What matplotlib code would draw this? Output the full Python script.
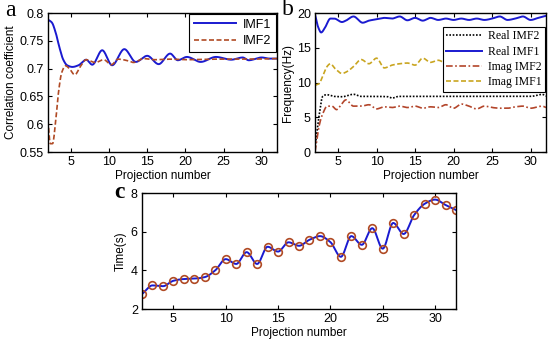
import numpy as np
import matplotlib
matplotlib.use("Agg")
import matplotlib.pyplot as plt

# ---------------- data ----------------
# panel a: correlation coefficient
a_imf1_x = [2, 2.5, 3, 3.5, 4, 4.5, 5.2, 6, 7, 7.8, 9.1, 10.4, 12, 13.5, 15, 16.5, 18, 19,
            20.2, 22, 24, 26, 27.5, 28.3, 30, 31, 32]
a_imf1_y = [0.788, 0.783, 0.765, 0.738, 0.716, 0.706, 0.703, 0.706, 0.716, 0.707, 0.733, 0.706,
            0.735, 0.712, 0.723, 0.708, 0.727, 0.715, 0.721, 0.712, 0.721, 0.716, 0.720, 0.715,
            0.720, 0.718, 0.718]
a_imf2_x = [2, 2.3, 2.6, 3, 3.4, 3.8, 4.3, 4.8, 5.5, 6.3, 7, 8.2, 9.3, 10.3, 11.2, 12.5, 13.2,
            14.5, 16, 18, 20, 24, 28, 32]
a_imf2_y = [0.607, 0.565, 0.565, 0.605, 0.660, 0.693, 0.705, 0.700, 0.689, 0.705, 0.716, 0.711,
            0.716, 0.707, 0.717, 0.714, 0.711, 0.718, 0.716, 0.717, 0.716, 0.717, 0.717, 0.718]

# panel b: frequency
b_real1_x = [2, 2.4, 2.8, 3.3, 4, 4.5, 5.5, 6, 7, 8.2, 9, 10, 11, 12, 13, 14, 15, 16, 17, 18,
             19, 20, 21, 22, 23, 24, 25, 26, 27, 28, 29, 30, 31, 32]
b_real1_y = [19.8, 18.0, 17.2, 17.9, 19.2, 19.2, 18.7, 18.9, 19.5, 18.6, 18.9, 19.1, 19.3, 19.2,
             19.5, 18.95, 19.3, 18.9, 19.3, 19.0, 19.2, 19.0, 19.2, 19.0, 19.2, 19.0, 19.2, 19.5,
             19.0, 19.2, 19.5, 19.0, 19.3, 19.6]
b_imag1_x = [2, 2.5, 3, 3.5, 4, 4.6, 5.5, 6.2, 7, 8, 9, 10, 11, 12, 13, 14, 15, 16, 17, 18, 19,
             20, 22, 24, 26, 28, 30, 32]
b_imag1_y = [9.6, 9.8, 10.9, 12.2, 12.7, 12.0, 11.3, 11.6, 12.3, 13.3, 12.7, 13.5, 12.1, 12.5,
             12.7, 12.8, 12.5, 13.5, 12.9, 13.2, 12.8, 12.9, 13.0, 12.8, 13.0, 12.9, 13.0, 12.9]
b_real2_x = [2, 2.5, 3, 3.5, 4.5, 5.5, 7, 8, 10, 11.5, 12, 12.8, 15, 20, 25, 30, 31.5, 32]
b_real2_y = [0.7, 5.0, 8.0, 8.25, 8.0, 7.95, 8.3, 8.0, 8.0, 7.95, 7.75, 8.0, 8.0, 8.0, 8.0, 8.0,
             8.3, 8.05]
b_imag2_x = [2, 2.5, 3, 3.6, 4.2, 4.8, 5.4, 6, 7, 8, 9, 10, 11, 12, 13, 14, 15, 16, 17, 18, 19,
             20, 21, 22, 23, 24, 25, 26, 27, 28, 29, 30, 31.5, 32]
b_imag2_y = [0.0, 3.6, 5.5, 6.6, 6.6, 6.1, 6.8, 7.5, 6.6, 6.6, 6.8, 6.2, 6.5, 6.4, 6.6, 6.4, 6.6,
             6.3, 6.5, 6.4, 6.8, 6.3, 6.9, 6.6, 6.2, 6.6, 6.4, 6.3, 6.3, 6.5, 6.6, 6.3, 6.6, 6.4]

# panel c: time
c_x = list(range(2, 33))
c_y = [2.77, 3.22, 3.18, 3.46, 3.55, 3.57, 3.65, 4.0, 4.58, 4.33, 4.94, 4.33, 5.22, 4.97, 5.45,
       5.27, 5.58, 5.77, 5.46, 4.70, 5.77, 5.32, 6.18, 5.12, 6.45, 5.88, 6.86, 7.44, 7.66, 7.38,
       7.12]

a_ticks = [5, 10, 15, 20, 25, 30]
a_yticks = [0.55, 0.6, 0.65, 0.7, 0.75, 0.8]
b_yticks = [0, 5, 10, 15, 20]
c_yticks = [2, 4, 6, 8]


def pchip(x, y, n=600):
    x = np.asarray(x, float)
    y = np.asarray(y, float)
    h = np.diff(x)
    d = np.diff(y) / h
    m = np.zeros_like(y)
    for k in range(1, len(x) - 1):
        if d[k - 1] * d[k] > 0:
            w1 = 2 * h[k] + h[k - 1]
            w2 = h[k] + 2 * h[k - 1]
            m[k] = (w1 + w2) / (w1 / d[k - 1] + w2 / d[k])
    m[0] = d[0]
    m[-1] = d[-1]
    xs = np.linspace(x[0], x[-1], n)
    idx = np.clip(np.searchsorted(x, xs) - 1, 0, len(x) - 2)
    t = (xs - x[idx]) / h[idx]
    h00 = 2 * t**3 - 3 * t**2 + 1
    h10 = t**3 - 2 * t**2 + t
    h01 = -2 * t**3 + 3 * t**2
    h11 = t**3 - t**2
    ys = h00 * y[idx] + h10 * h[idx] * m[idx] + h01 * y[idx + 1] + h11 * h[idx] * m[idx + 1]
    return xs, ys


SANS = "Liberation Sans"
SERIF = "Liberation Serif"
plt.rcParams["font.family"] = SANS

BLUE = "#1a1ad0"
RED = "#b04a24"
GOLD = "#c9a520"
DASHDOT = "#b3452a"

fig = plt.figure(figsize=(5.5, 3.43), dpi=100)


def style(ax):
    ax.tick_params(direction="in", top=True, right=True, labelsize=9, length=3, width=0.8,
                   pad=3)
    for s in ax.spines.values():
        s.set_linewidth(1.0)


# ---- panel a ----
axa = fig.add_axes([48 / 550, 1 - 152 / 343, 229 / 550, 139 / 343])
axa.plot(*pchip(a_imf1_x, a_imf1_y), color=BLUE, lw=1.4, label="IMF1")
axa.plot(*pchip(a_imf2_x, a_imf2_y), color=RED, lw=1.2, ls=(0, (3, 1.5)), label="IMF2")
axa.set_xlim(2, 32)
axa.set_ylim(0.55, 0.8)
axa.set_xticks(a_ticks)
axa.set_yticks(a_yticks)
axa.set_yticklabels([f"{v:g}" for v in a_yticks])
axa.set_xlabel("Projection number", fontsize=8.5, labelpad=1)
axa.set_ylabel("Correlation coefficient", fontsize=8.5, labelpad=2)
style(axa)
leg = axa.legend(loc="upper right", fontsize=9, handlelength=3.3, borderaxespad=0.05,
                 fancybox=False, framealpha=1, edgecolor="black", borderpad=0.4,
                 labelspacing=0.35, handletextpad=0.6)
leg.get_frame().set_linewidth(0.8)
fig.text(5 / 550, 1 - 16 / 343, "a", fontsize=17, family=SERIF, va="baseline", ha="left")

# ---- panel b ----
axb = fig.add_axes([315 / 550, 1 - 152 / 343, 231 / 550, 139 / 343])
axb.plot(*pchip(b_real2_x, b_real2_y), color="black", lw=1.2, ls=(0, (1, 1)), label="Real IMF2")
axb.plot(*pchip(b_real1_x, b_real1_y), color=BLUE, lw=1.4, label="Real IMF1")
axb.plot(*pchip(b_imag2_x, b_imag2_y), color=DASHDOT, lw=1.2, ls=(0, (4, 1.5, 1, 1.5)),
         label="Imag IMF2")
axb.plot(*pchip(b_imag1_x, b_imag1_y), color=GOLD, lw=1.2, ls=(0, (3, 1.5)), label="Imag IMF1")
axb.set_xlim(2, 32)
axb.set_ylim(0, 20)
axb.set_xticks(a_ticks)
axb.set_yticks(b_yticks)
axb.set_xlabel("Projection number", fontsize=8.5, labelpad=1)
axb.set_ylabel("Frequency(Hz)", fontsize=8.5, labelpad=2)
style(axb)
legb = axb.legend(loc="upper right", bbox_to_anchor=(0.995, 0.9),
                  prop={"family": SERIF, "size": 8.5}, handlelength=3.0, fancybox=False,
                  framealpha=1, edgecolor="black", borderpad=0.3, labelspacing=0.28,
                  handletextpad=0.5, borderaxespad=0.0)
legb.get_frame().set_linewidth(0.8)
fig.text(282 / 550, 1 - 15 / 343, "b", fontsize=17, family=SERIF, va="baseline", ha="left")

# ---- panel c ----
axc = fig.add_axes([142 / 550, 1 - 309 / 343, 314 / 550, 116 / 343])
axc.plot(*pchip(c_x, c_y), color=BLUE, lw=1.4)
axc.plot(c_x, c_y, ls="none", marker="o", ms=5.5, mfc="none", mec=RED, mew=1.2)
axc.set_xlim(2, 32)
axc.set_ylim(2, 8)
axc.set_xticks(a_ticks)
axc.set_yticks(c_yticks)
axc.set_xlabel("Projection number", fontsize=8.5, labelpad=1)
axc.set_ylabel("Time(s)", fontsize=8.5, labelpad=3)
style(axc)
fig.text(114 / 550, 1 - 198 / 343, "c", fontsize=17, family=SERIF, va="baseline", ha="left",
         weight="bold")

fig.savefig("out.png", dpi=100)
